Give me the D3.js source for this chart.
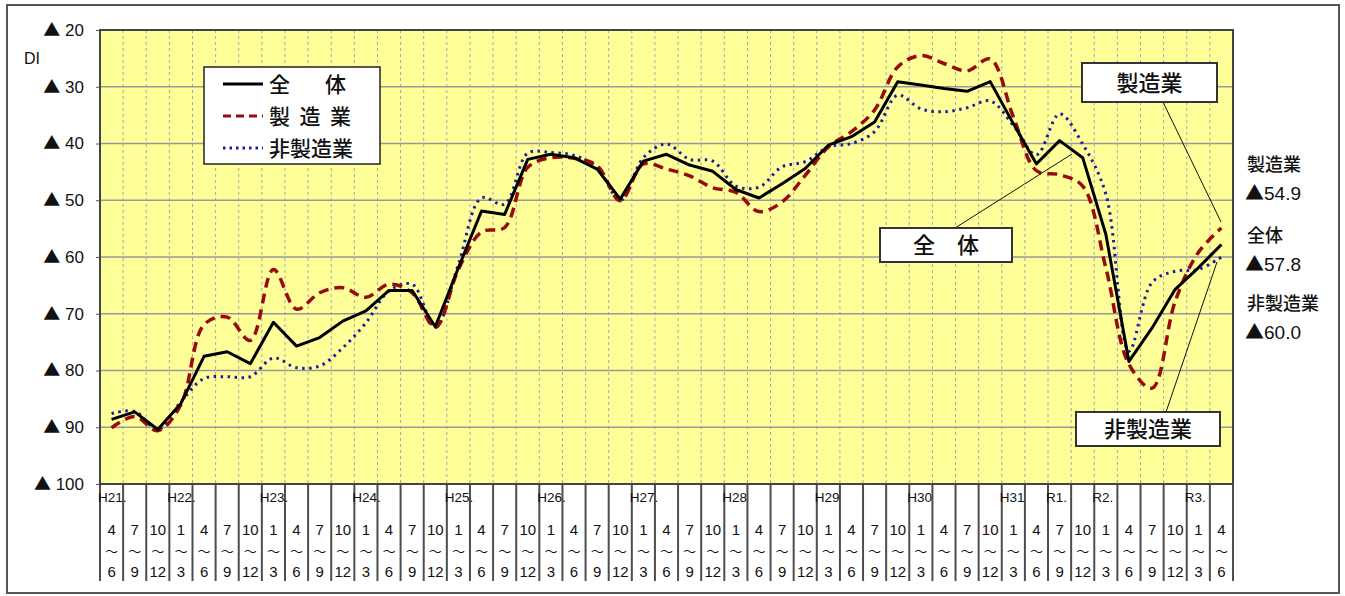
<!DOCTYPE html>
<html>
<head>
<meta charset="utf-8">
<title>DI</title>
<script src="https://d3js.org/d3.v7.min.js"></script>
<style>
body { margin: 0; background: #fff; }
text { font-family: "Liberation Sans", Arial, sans-serif; fill: #111; }
.jp { font-family: "Noto Sans CJK JP", sans-serif; }
</style>
</head>
<body>
<svg width="1345" height="596"></svg>
<script>
// quarters (months) and year markers
var quarters = ["4~6","7~9","10~12","1~3","4~6","7~9","10~12","1~3","4~6","7~9","10~12","1~3","4~6","7~9","10~12",
  "1~3","4~6","7~9","10~12","1~3","4~6","7~9","10~12","1~3","4~6","7~9","10~12","1~3","4~6","7~9","10~12",
  "1~3","4~6","7~9","10~12","1~3","4~6","7~9","10~12","1~3","4~6","7~9","10~12","1~3","4~6","7~9","10~12","1~3","4~6"];
var years = ["H21.","","","H22.","","","","H23.","","","","H24.","","","","H25.","","","","H26.","","","","H27.","","","",
  "H28","","","","H29","","","","H30","","","","H31","","R1.","","R2.","","","","R3.",""];

// DI values (shown as ▲)
var zentai = [88.6,87.3,90.4,85.8,77.5,76.7,78.8,71.5,75.7,74.2,71.3,69.5,65.9,65.9,72.3,61.9,51.9,52.5,42.8,41.9,42.5,44.5,49.8,43.1,41.9,
  43.8,44.9,48.1,49.6,47.1,44.4,40.3,38.8,36.2,29.1,29.7,30.3,30.8,29.1,36.5,43.6,39.5,42.5,56.0,78.4,72.5,65.7,61.9,57.8];
var seizo = [90.1,88.1,90.6,86.0,71.9,70.6,74.7,62.2,69.2,66.3,65.4,67.1,64.8,66.3,72.4,62.2,55.6,54.8,44.2,42.5,42.6,43.9,50.1,43.6,44.5,
  45.7,47.8,48.6,52.0,50.3,45.6,40.6,37.9,34.1,26.5,24.5,25.9,27.2,25.1,35.3,44.8,45.5,47.5,61.9,78.9,83.1,67.8,59.2,54.9];
var hiseizo = [87.6,87.2,90.4,85.5,81.4,81.1,81.1,77.8,79.5,79.2,76.0,71.6,66.0,64.8,72.4,61.3,49.6,50.7,41.7,41.6,42.1,44.2,50.0,42.5,40.1,
  42.8,43.1,47.5,47.7,44.1,43.2,40.6,40.0,37.9,31.5,33.9,34.4,33.7,32.5,36.8,42.0,34.8,40.1,48.9,76.6,64.5,62.5,62.2,60.0];
var yTicks = [20,30,40,50,60,70,80,90,100];

var svg = d3.select("svg");
var pLeft = 100, pRight = 1233, pTop = 30, pBottom = 484;

var x = d3.scaleBand().domain(d3.range(quarters.length)).range([pLeft, pRight]);
var y = d3.scaleLinear().domain([20, 100]).range([pTop, pBottom]);
var cx = function(i) { return x(i) + x.bandwidth() / 2; };

// writes "▲" with the CJK font (big triangle) followed by the number
function tri(sel, num) {
  sel.append("tspan").attr("class", "jp").text("▲");
  sel.append("tspan").text(num);
}

// outer frame
svg.append("rect")
  .attr("x", 7).attr("y", 5).attr("width", 1332).attr("height", 588)
  .attr("fill", "#fff").attr("stroke", "#555").attr("stroke-width", 2);

// plot area
svg.append("rect")
  .attr("x", pLeft).attr("y", pTop).attr("width", pRight - pLeft).attr("height", pBottom - pTop)
  .attr("fill", "#ffff99");

svg.append("g").selectAll("line")
  .data(d3.range(1, quarters.length))
  .join("line")
    .attr("x1", function(d) { return x(d); }).attr("x2", function(d) { return x(d); })
    .attr("y1", pTop).attr("y2", pBottom)
    .attr("stroke", "#a8a8a8").attr("stroke-dasharray", "3,3");

svg.append("g").selectAll("line")
  .data(yTicks.slice(1, -1))
  .join("line")
    .attr("x1", pLeft).attr("x2", pRight)
    .attr("y1", function(d) { return y(d); }).attr("y2", function(d) { return y(d); })
    .attr("stroke", "#999").attr("stroke-width", 1.5);

// y axis
var yAxis = svg.append("g")
  .attr("transform", "translate(" + pLeft + ",0)")
  .call(d3.axisLeft(y).tickValues(yTicks).tickSize(4).tickPadding(12));
yAxis.select(".domain").remove();
yAxis.selectAll("line").attr("stroke", "#555");
yAxis.selectAll("text")
  .attr("font-size", 17).attr("fill", "#111")
  .style("font-family", "'Liberation Sans', Arial, sans-serif")
  .text("")
  .each(function(d) { tri(d3.select(this), " " + d); });

svg.append("text").attr("x", 24).attr("y", 64).attr("font-size", 16).text("DI");

// category separators below the plot
svg.append("g").selectAll("line")
  .data(d3.range(quarters.length + 1))
  .join("line")
    .attr("x1", function(d) { return d < quarters.length ? x(d) : pRight; })
    .attr("x2", function(d) { return d < quarters.length ? x(d) : pRight; })
    .attr("y1", pBottom).attr("y2", 581)
    .attr("stroke", "#4d4d4d").attr("stroke-width", 2);

svg.append("rect")
  .attr("x", pLeft).attr("y", pTop).attr("width", pRight - pLeft).attr("height", pBottom - pTop)
  .attr("fill", "none").attr("stroke", "#444").attr("stroke-width", 2);

// year labels
svg.append("g").selectAll("text")
  .data(years.map(function(d, i) { return {i: i, t: d}; }).filter(function(d) { return d.t; }))
  .join("text")
    .attr("x", function(d) { return x(d.i) - 2; })
    .attr("y", 502)
    .attr("font-size", 13.5)
    .attr("fill", "#262640")
    .text(function(d) { return d.t; });

// month labels
var mg = svg.append("g").selectAll("g")
  .data(quarters)
  .join("g")
    .attr("transform", function(d, i) { return "translate(" + cx(i) + ",0)"; });
mg.append("text").attr("y", 535).attr("text-anchor", "middle").attr("font-size", 15)
  .text(function(d) { return d.split("~")[0]; });
mg.append("text").attr("class", "jp").attr("y", 556).attr("text-anchor", "middle").attr("font-size", 13)
  .text("～");
mg.append("text").attr("y", 577).attr("text-anchor", "middle").attr("font-size", 15)
  .text(function(d) { return d.split("~")[1]; });

// series
var lineLinear = d3.line().x(function(d, i) { return cx(i); }).y(function(d) { return y(d); });
var lineSmooth = d3.line().curve(d3.curveCatmullRom.alpha(0.5))
  .x(function(d, i) { return cx(i); }).y(function(d) { return y(d); });

svg.append("path").datum(hiseizo).attr("d", lineSmooth)
  .attr("fill", "none").attr("stroke", "#1c1ca0").attr("stroke-width", 3).attr("stroke-dasharray", "2.5,4.5");
svg.append("path").datum(seizo).attr("d", lineSmooth)
  .attr("fill", "none").attr("stroke", "#9b0a0a").attr("stroke-width", 3.5).attr("stroke-dasharray", "10,6");
svg.append("path").datum(zentai).attr("d", lineLinear)
  .attr("fill", "none").attr("stroke", "#000").attr("stroke-width", 3).attr("stroke-linejoin", "round");

// legend
var lg = svg.append("g");
lg.append("rect").attr("x", 204).attr("y", 67).attr("width", 176).attr("height", 97)
  .attr("fill", "#fff").attr("stroke", "#222").attr("stroke-width", 1.5);
var legendItems = [
  {t: "全体", len: 77, stroke: "#000", w: 3, dash: null},
  {t: "製造業", len: 82, stroke: "#9b0a0a", w: 3, dash: "8,5"},
  {t: "非製造業", len: 0, stroke: "#1c1ca0", w: 3, dash: "2.5,4"}
];
legendItems.forEach(function(d, k) {
  var ly = 84 + k * 32;
  lg.append("line").attr("x1", 223).attr("x2", 263).attr("y1", ly).attr("y2", ly)
    .attr("stroke", d.stroke).attr("stroke-width", d.w).attr("stroke-dasharray", d.dash);
  var t = lg.append("text").attr("class", "jp").attr("x", 269).attr("y", ly + 7.5)
    .attr("font-size", 21).attr("font-weight", 500).text(d.t);
  if (d.len) t.attr("textLength", d.len).attr("lengthAdjust", "spacing");
});

// right side values
var side = [
  {name: "製造業", v: "54.9", y: 165},
  {name: "全体", v: "57.8", y: 236},
  {name: "非製造業", v: "60.0", y: 304}
];
side.forEach(function(d) {
  svg.append("text").attr("class", "jp").attr("x", 1247).attr("y", d.y + 6)
    .attr("font-size", 18).attr("font-weight", 500).text(d.name);
  tri(svg.append("text").attr("x", 1245).attr("y", d.y + 35).attr("font-size", 19), d.v);
});

// callouts
var callouts = [
  {t: "製造業", bx: 1082, by: 63, bw: 135, bh: 39, lx1: 1163, ly1: 102, lx2: 1221, ly2: 222},
  {t: "全　体", bx: 880, by: 228, bw: 132, bh: 34, lx1: 955, ly1: 228, lx2: 1072, ly2: 154},
  {t: "非製造業", bx: 1076, by: 412, bw: 144, bh: 34, lx1: 1166, ly1: 412, lx2: 1217, ly2: 262}
];
callouts.forEach(function(d) {
  svg.append("line").attr("x1", d.lx1).attr("y1", d.ly1).attr("x2", d.lx2).attr("y2", d.ly2)
    .attr("stroke", "#111").attr("stroke-width", 1);
  svg.append("rect").attr("x", d.bx).attr("y", d.by).attr("width", d.bw).attr("height", d.bh)
    .attr("fill", "#fff").attr("stroke", "#333").attr("stroke-width", 2);
  svg.append("text").attr("class", "jp").attr("x", d.bx + d.bw / 2).attr("y", d.by + d.bh / 2 + 8)
    .attr("text-anchor", "middle").attr("font-size", 22).attr("font-weight", 500).text(d.t);
});
</script>
</body>
</html>
